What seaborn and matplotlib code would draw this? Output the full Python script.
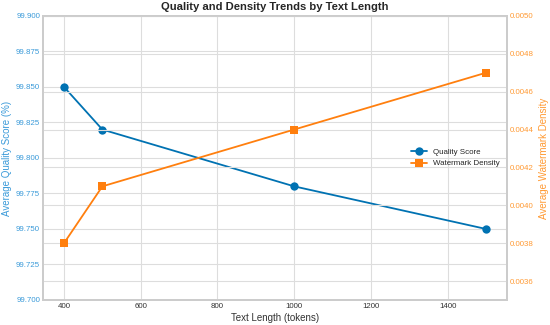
import matplotlib
matplotlib.use("Agg")
import matplotlib.pyplot as plt
import seaborn as sns
import pandas as pd

text_length = [400, 500, 1000, 1500]
quality_score = [99.85, 99.82, 99.78, 99.75]
watermark_density = [0.0038, 0.0041, 0.0044, 0.0047]

sns.set_theme(style="whitegrid")
plt.rcParams['font.family'] = ['Liberation Sans', 'DejaVu Sans']

df = pd.DataFrame({"len": text_length, "q": quality_score, "d": watermark_density})

blue = "#0072B2"
orange = "#FF7F0E"
blue_txt = "#3a9ad9"
orange_txt = "#ff9a33"

fig, ax1 = plt.subplots(figsize=(5.5, 3.25), dpi=100)
fig.subplots_adjust(left=0.078, right=0.922, top=0.951, bottom=0.077)

sns.lineplot(data=df, x="len", y="q", ax=ax1, color=blue, marker="o", markersize=6,
             markeredgewidth=0, linewidth=1.3, label="Quality Score", legend=False)
ax2 = ax1.twinx()
sns.lineplot(data=df, x="len", y="d", ax=ax2, color=orange, marker="s", markersize=6,
             markeredgewidth=0, linewidth=1.3, label="Watermark Density", legend=False)

ax1.set_ylim(99.70, 99.90)
ax1.set_yticks([99.700, 99.725, 99.750, 99.775, 99.800, 99.825, 99.850, 99.875, 99.900])
ax1.set_yticklabels([f"{v:.3f}" for v in ax1.get_yticks()])
ax2.set_ylim(0.0035, 0.0050)
ax2.set_yticks([0.0036, 0.0038, 0.0040, 0.0042, 0.0044, 0.0046, 0.0048, 0.0050])
ax2.set_yticklabels([f"{v:.4f}" for v in ax2.get_yticks()])

ax1.set_xlabel("Text Length (tokens)", fontsize=7, color="#333333", labelpad=2)
ax1.set_ylabel("Average Quality Score (%)", fontsize=7, color=blue_txt, labelpad=3)
ax2.set_ylabel("Average Watermark Density", fontsize=7, color=orange_txt, labelpad=4)
ax1.tick_params(axis="y", labelsize=5.7, colors=blue_txt, pad=2, length=0)
ax1.tick_params(axis="x", labelsize=5.7, colors="#333333", pad=2, length=0)
ax2.tick_params(axis="y", labelsize=5.7, colors=orange_txt, pad=2, length=0)
ax1.set_title("Quality and Density Trends by Text Length", fontsize=8.1, fontweight="bold", pad=4)

for ax in (ax1, ax2):
    for s in ax.spines.values():
        s.set_color("#cccccc")
ax2.grid(True, color="#dddddd", linewidth=0.8)
ax1.grid(True, color="#dddddd", linewidth=0.8)

h1, l1 = ax1.get_legend_handles_labels()
h2, l2 = ax2.get_legend_handles_labels()
ax2.legend(h1 + h2, l1 + l2, loc="center right", fontsize=5.7, frameon=False)

fig.savefig("out.png", dpi=100)
